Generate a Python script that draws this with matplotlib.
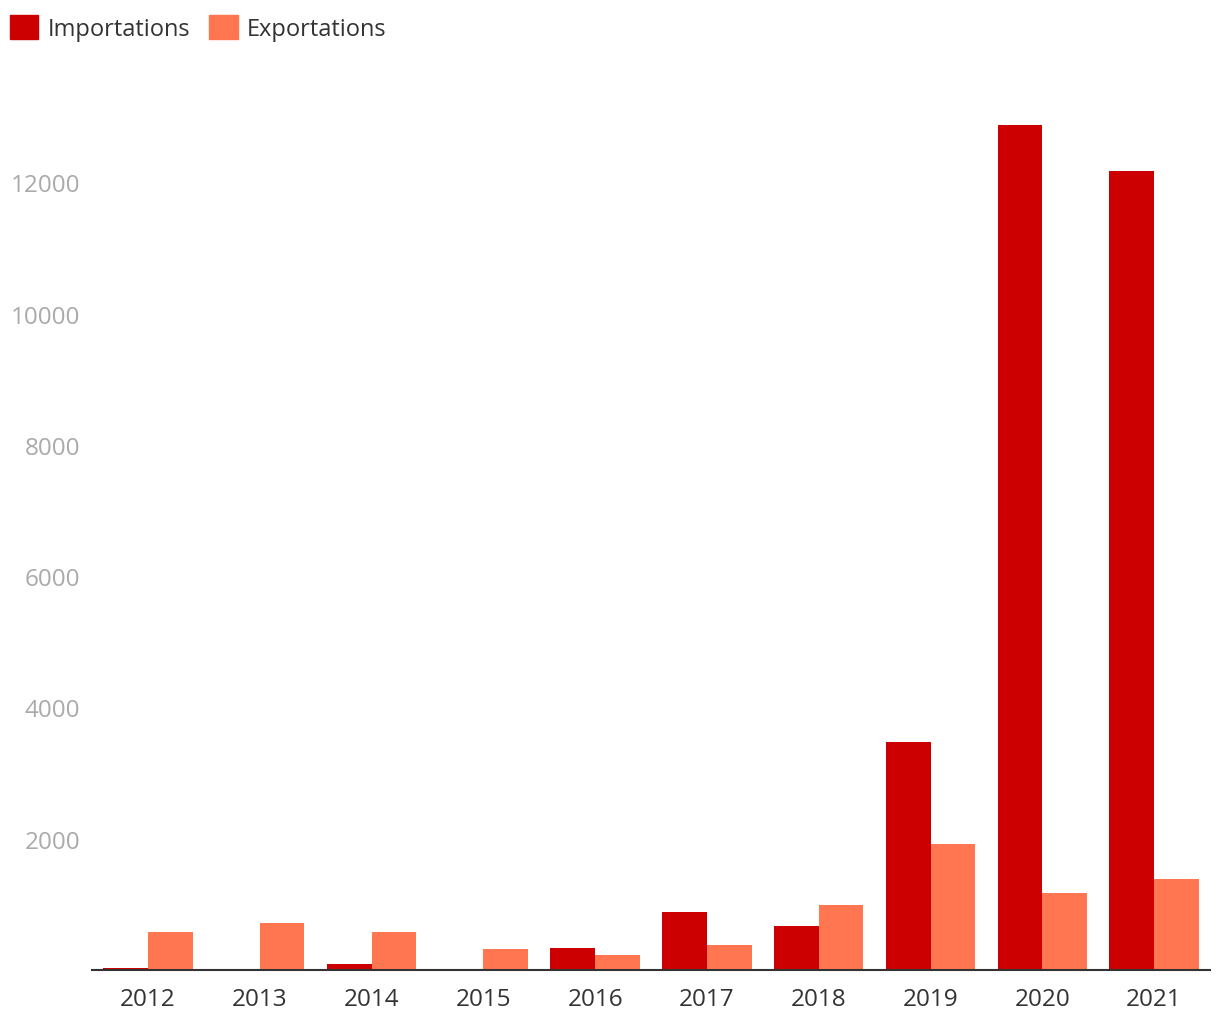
import numpy as np
import matplotlib
matplotlib.use("Agg")
import matplotlib.pyplot as plt
from matplotlib.patches import Patch

years = ["2012", "2013", "2014", "2015", "2016", "2017", "2018", "2019", "2020", "2021"]
importations = [30, 0, 90, 0, 335, 885, 670, 3470, 12870, 12170]
exportations = [580, 715, 580, 320, 230, 380, 990, 1920, 1170, 1385]
yticks = [2000, 4000, 6000, 8000, 10000, 12000]

plt.rcParams['font.family'] = ['Open Sans', 'DejaVu Sans']

fig = plt.figure(figsize=(12.2, 10.2), dpi=100)
ax = fig.add_axes([92 / 1220, 49 / 1020, 1118 / 1220, 873 / 1020])

x = np.arange(len(years))
w = 0.4
ax.bar(x - w / 2, importations, w, color='#cc0000')
ax.bar(x + w / 2, exportations, w, color='#ff7650')

ax.set_xlim(-0.5, 9.5)
ax.set_ylim(0, 13300)
ax.set_xticks(x)
ax.set_xticklabels(years)
ax.set_yticks(yticks)
ax.set_yticklabels([str(v) for v in yticks])
ax.tick_params(axis='x', length=0, pad=12, labelsize=17.5, labelcolor='#333333')
ax.tick_params(axis='y', length=0, pad=8.5, labelsize=17.5, labelcolor='#aaaaaa')
for s in ['top', 'right', 'left']:
    ax.spines[s].set_visible(False)
ax.spines['bottom'].set_color('#333333')
ax.spines['bottom'].set_linewidth(1.5)

handles = [Patch(color='#cc0000', label='Importations'),
           Patch(color='#ff7650', label='Exportations')]
fig.legend(handles=handles, loc='upper left', bbox_to_anchor=(10 / 1220, 1 - 16 / 1020),
           ncol=2, frameon=False, fontsize=17, handlelength=1.2, handleheight=1.2,
           handletextpad=0.4, columnspacing=0.8, labelcolor='#333333',
           borderpad=0, borderaxespad=0)

fig.savefig("out.png", dpi=100)
